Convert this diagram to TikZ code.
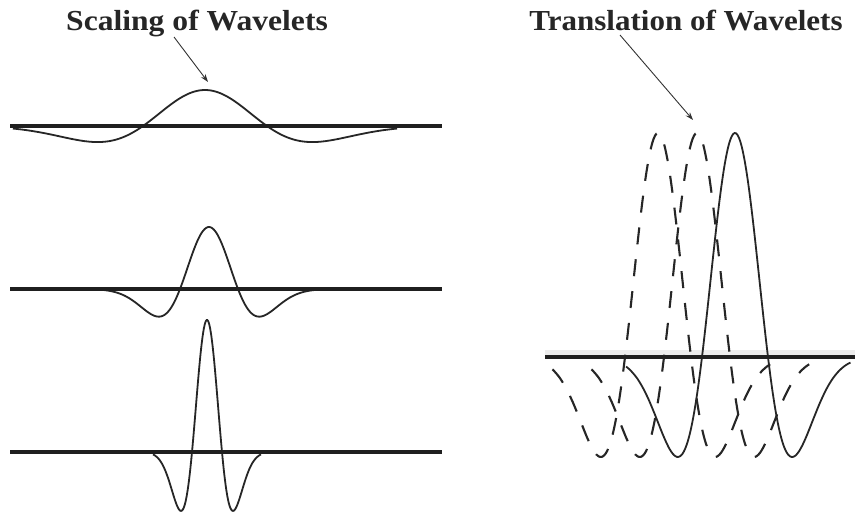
\documentclass[tikz,border=0pt]{standalone}
\usepackage{fontspec}
\usepackage{graphicx}
\setmainfont{Liberation Serif}
\usetikzlibrary{arrows.meta}
\begin{document}
\begin{tikzpicture}[x=1pt,y=-1pt,
  axisline/.style={line width=3.4pt, black!88},
  wave/.style={line width=1.8pt, black!85},
  dashwave/.style={line width=2.1pt, black!85, dash pattern=on 17pt off 15pt},
  title/.style={font=\fontsize{29}{32}\selectfont\bfseries, inner sep=0pt, anchor=base, text=black!85},
  pointer/.style={line width=0.9pt, black!80, -{Stealth[length=8pt,width=5.5pt]}}
]
\useasboundingbox (0,0) rectangle (855,517);
\fill[white] (0,0) rectangle (855,517);

% titles
\node[title] (t1) at (197,30) {\scalebox{1.09}[1]{Scaling of Wavelets}};
\node[title] (t2) at (686,30) {\scalebox{1.07}[1]{Translation of Wavelets}};

% pointers
\coordinate (a1s) at (174,37);
\coordinate (a1e) at (208,82);
\coordinate (a2s) at (620,35);
\coordinate (a2e) at (693,120);
\draw[pointer] (a1s) -- (a1e);
\draw[pointer] (a2s) -- (a2e);

% scaling: row 1
\draw[wave] plot[smooth, domain=-3.1:3.1, samples=140] ({205+62*\x},{126-36*(1-(\x)*(\x))*exp(-(\x)*(\x)/2)});
\draw[axisline] (10,126) -- (442,126);
% row 2
\draw[wave] plot[smooth, domain=-3.6:3.8, samples=140] ({209+29*\x},{289-62*(1-(\x)*(\x))*exp(-(\x)*(\x)/2)});
\draw[axisline] (10,289) -- (442,289);
% row 3
\draw[wave] plot[smooth, domain=-3.6:3.6, samples=160] ({207+15*\x},{452-132*(1-(\x)*(\x))*exp(-(\x)*(\x)/2)});
\draw[axisline] (10,452) -- (442,452);

% translation
\draw[line width=7pt, black!7] (545,353) -- (855,353);
\draw[dashwave] plot[smooth, domain=-3.2:3.4, samples=160] ({658+33*\x},{357-224*(1-(\x)*(\x))*exp(-(\x)*(\x)/2)});
\draw[dashwave] plot[smooth, domain=-3.2:3.4, samples=160] ({697+33*\x},{357-224*(1-(\x)*(\x))*exp(-(\x)*(\x)/2)});
\draw[wave] plot[smooth, domain=-3.3:3.5, samples=160] ({735+33*\x},{357-224*(1-(\x)*(\x))*exp(-(\x)*(\x)/2)});
\draw[axisline] (545,357) -- (855,357);
\end{tikzpicture}
\end{document}
